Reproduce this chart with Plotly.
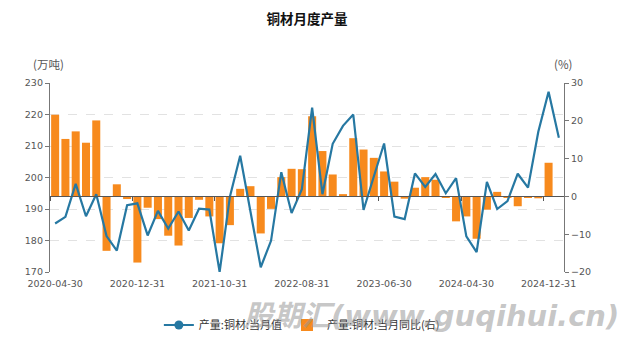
import plotly.graph_objects as go

categories = [
    "2020-04-30", "2020-05-31", "2020-06-30", "2020-07-31", "2020-08-31", "2020-09-30",
    "2020-10-31", "2020-11-30", "2020-12-31",
    "2021-03-31", "2021-04-30", "2021-05-31", "2021-06-30", "2021-07-31", "2021-08-31",
    "2021-09-30", "2021-10-31", "2021-11-30", "2021-12-31",
    "2022-03-31", "2022-04-30", "2022-05-31", "2022-06-30", "2022-07-31", "2022-08-31",
    "2022-09-30", "2022-10-31", "2022-11-30", "2022-12-31",
    "2023-03-31", "2023-04-30", "2023-05-31", "2023-06-30", "2023-07-31", "2023-08-31",
    "2023-09-30", "2023-10-31", "2023-11-30", "2023-12-31",
    "2024-03-31", "2024-04-30", "2024-05-31", "2024-06-30", "2024-07-31", "2024-08-31",
    "2024-09-30", "2024-10-31", "2024-11-30", "2024-12-31",
    "2025-02-28",
]

output_wt = [
    185.4, 187.5, 198.0, 187.7, 194.7, 181.4, 176.8, 191.2, 191.8,
    181.6, 189.4, 183.8, 189.2, 183.2, 190.1, 189.8, 170.0, 193.9, 206.9,
    189.2, 171.5, 179.9, 201.7, 188.7, 196.3, 222.2, 194.7, 210.7, 216.4,
    220.0, 189.7, 200.3, 210.8, 187.6, 186.8, 201.3, 197.0, 201.1, 195.0,
    199.8, 181.3, 176.3, 198.6, 190.0, 192.5, 201.2, 196.8, 214.5, 227.2,
    212.6,
]

yoy_pct = [
    21.6, 15.2, 17.2, 14.2, 20.1, -14.4, 3.2, -0.7, -17.5,
    -3.0, -6.0, -10.4, -13.0, -5.7, -0.9, -5.3, -12.4, -7.6, 2.0,
    2.7, -9.8, -3.3, 5.1, 7.3, 7.2, 21.2, 12.0, 5.8, 0.6,
    15.4, 12.4, 10.2, 6.6, 3.9, -0.6, 2.3, 5.1, 4.4, -0.3,
    -6.6, -5.3, -11.2, -3.5, 1.2, -0.2, -2.6, -0.3, -0.5, 8.9,
    None,
]

x_tick_labels = ["2020-04-30", "2020-12-31", "2021-10-31", "2022-08-31",
                 "2023-06-30", "2024-04-30", "2024-12-31"]

LINE_COLOR = "#2678a2"
BAR_COLOR = "#f78a1d"
TICK_FONT = dict(family="DejaVu Sans, Noto Sans CJK SC", size=9.5, color="#555555")
CJK = "Noto Sans CJK SC, DejaVu Sans"
H = 342

fig = go.Figure()

# bars on the base subplot (x / y, right-hand % axis)
fig.add_trace(go.Bar(
    x=categories, y=yoy_pct, name="产量:铜材:当月同比(右)",
    marker=dict(color=BAR_COLOR, line=dict(width=0)),
    xaxis="x", yaxis="y", legendrank=2,
))

# line on the overlay subplot (x2 / y2, left-hand 万吨 axis)
fig.add_trace(go.Scatter(
    x=categories, y=output_wt, name="产量:铜材:当月值",
    mode="lines", line=dict(color=LINE_COLOR, width=2.2),
    xaxis="x2", yaxis="y2", showlegend=False, legendgroup="lv",
))
# legend entry for the line series (line with a round marker)
fig.add_trace(go.Scatter(
    x=[None], y=[None], name="产量:铜材:当月值",
    mode="lines+markers", line=dict(color=LINE_COLOR, width=2),
    marker=dict(color=LINE_COLOR, size=9),
    xaxis="x2", yaxis="y2", legendgroup="lv", legendrank=1,
))

xr = [-0.5, len(categories) - 0.5]

fig.update_layout(
    width=634, height=H,
    margin=dict(l=50, r=70, t=83, b=70, autoexpand=False),
    paper_bgcolor="white", plot_bgcolor="white",
    bargap=0.22,
    title=dict(text="<b>铜材月度产量</b>", x=0.5, xref="paper", y=1 - 19 / H,
               yref="container", xanchor="center", yanchor="middle",
               font=dict(family=CJK, size=13.5, color="#111111")),
    xaxis=dict(
        type="category", range=xr,
        tickmode="array", tickvals=x_tick_labels, ticktext=x_tick_labels,
        ticks="", showline=False, showgrid=False, zeroline=False,
        tickfont=TICK_FONT, automargin=False, ticklabelstandoff=4,
    ),
    xaxis2=dict(
        type="category", range=xr, overlaying="x", anchor="free", position=0.4,
        tickmode="linear", tick0=8, dtick=8, tickson="boundaries",
        ticks="outside", ticklen=4, tickcolor="#555555",
        showticklabels=False, showline=True, linecolor="#555555", linewidth=1,
        showgrid=False, zeroline=False,
    ),
    yaxis=dict(
        range=[-20, 30], dtick=10, side="right",
        showgrid=False, showline=True, linecolor="#777777", linewidth=1.3,
        ticks="outside", ticklen=4, tickcolor="#777777",
        zeroline=False, tickfont=TICK_FONT, automargin=False,
    ),
    yaxis2=dict(
        range=[170, 230], dtick=10, side="left", overlaying="y", anchor="x",
        showgrid=True, gridcolor="#e2e2e2", griddash="dash", gridwidth=1,
        showline=True, linecolor="#777777", linewidth=1.3,
        ticks="outside", ticklen=4, tickcolor="#777777",
        zeroline=False, tickfont=TICK_FONT, automargin=False,
    ),
    legend=dict(
        orientation="h", x=0.49, xanchor="center",
        yref="container", y=1 - 325 / H, yanchor="middle",
        font=dict(family=CJK, size=11, color="#333333"),
        itemwidth=30, bgcolor="rgba(0,0,0,0)", tracegroupgap=0,
        traceorder="normal",
    ),
    showlegend=True,
)

fig.add_annotation(text="(万吨)", x=-0.003, y=1.1, xref="paper", yref="paper",
                   xanchor="center", yanchor="middle", showarrow=False,
                   font=dict(family=CJK, size=11.5, color="#555555"))
fig.add_annotation(text="(%)", x=0.998, y=1.1, xref="paper", yref="paper",
                   xanchor="center", yanchor="middle", showarrow=False,
                   font=dict(family=CJK, size=11.5, color="#555555"))
fig.add_annotation(text="<b><i>股期汇(www.guqihui.cn)</i></b>", x=0.742,
                   y=-(316 - 272.3) / 189.6,
                   xref="paper", yref="paper", xanchor="center", yanchor="middle",
                   showarrow=False,
                   font=dict(family="DejaVu Sans, Noto Sans CJK SC", size=29,
                             color="rgba(150,150,150,0.55)"))

fig.write_html("out.html")
